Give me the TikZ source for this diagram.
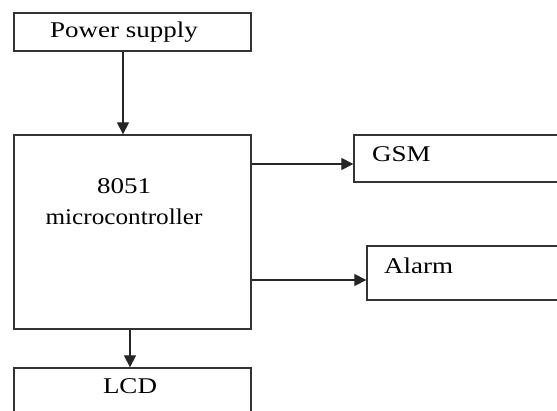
\documentclass[tikz,border=0pt]{standalone}
\usepackage{fontspec}
\setmainfont{Liberation Serif}
\usetikzlibrary{arrows.meta}
\tikzset{
  box/.style={draw=black!80, line width=1.3pt, inner sep=0pt, rectangle},
  lbl/.style={inner sep=0pt, font=\fontsize{22.5}{26}\selectfont},
  arr/.style={draw=black!85, line width=1.2pt, -{Triangle[length=12pt,width=12pt]}}
}
\newcommand{\sx}[1]{\scalebox{1.2}[1]{#1}}
\begin{document}
\begin{tikzpicture}[x=1pt,y=1pt]
\clip (0,0) rectangle (557,-410);
\fill[white] (0,0) rectangle (557,-410);
\node[box, minimum width=237pt, minimum height=38pt] (ps) at (132.5,-32) {};
\node[box, minimum width=237pt, minimum height=194pt] (mc) at (132.5,-232) {};
\node[box, minimum width=246pt, minimum height=47pt] (gsm) at (477,-158.5) {};
\node[box, minimum width=233pt, minimum height=54pt] (alarm) at (483.5,-273) {};
\node[box, minimum width=237pt, minimum height=72pt] (lcd) at (132.5,-404) {};
\node[lbl] (tps) at (124,-32) {\sx{Power supply}};
\node[lbl] (t1) at (124,-186) {\sx{8051}};
\node[lbl] (t2) at (124,-217) {\scalebox{1.12}[1]{microcontroller}};
\node[lbl, anchor=west] (tg) at (372,-154) {\sx{GSM}};
\node[lbl, anchor=west] (ta) at (384,-266) {\sx{Alarm}};
\node[lbl] (tl) at (130,-386) {\sx{LCD}};
\draw[arr] ([xshift=-9.5pt]ps.south) -- ([xshift=-9.5pt]mc.north);
\draw[arr] ([xshift=-2.5pt]mc.south) -- ([xshift=-2.5pt]lcd.north);
\coordinate (g) at ([yshift=-5.5pt]gsm.west);
\coordinate (a) at ([yshift=-7pt]alarm.west);
\draw[arr] (mc.east |- g) -- (g);
\draw[arr] (mc.east |- a) -- (a);
\end{tikzpicture}
\end{document}
